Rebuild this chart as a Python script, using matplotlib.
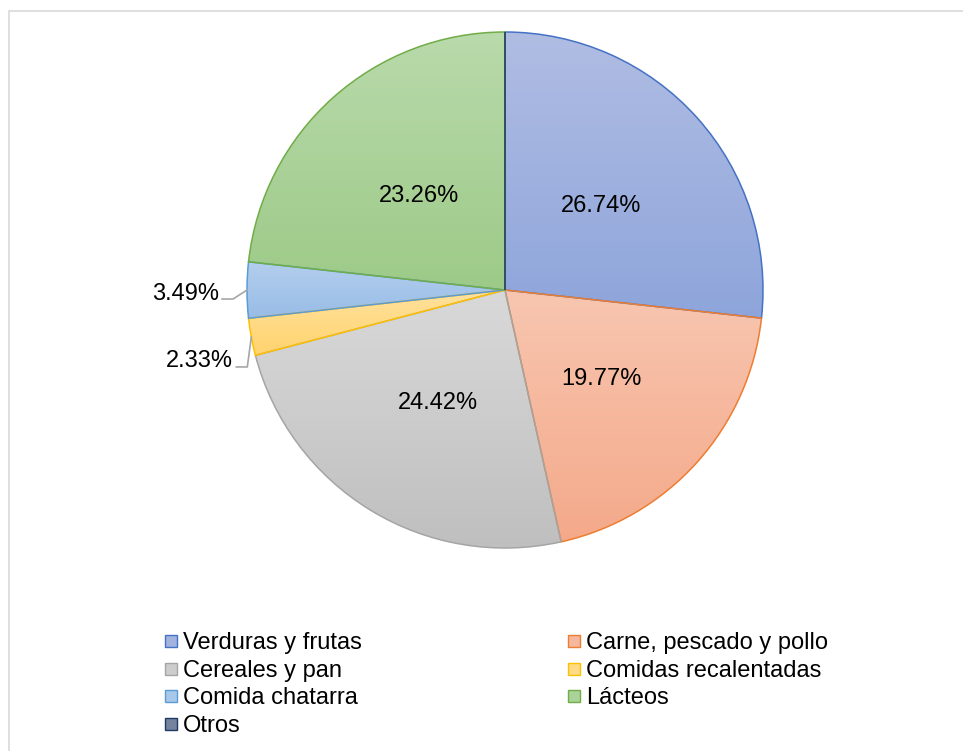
import matplotlib.pyplot as plt
import numpy as np
from matplotlib.colors import LinearSegmentedColormap
from matplotlib.patches import Rectangle

plt.rcParams["font.family"] = ["Liberation Sans", "DejaVu Sans"]

categories = [
    "Verduras y frutas",
    "Carne, pescado y pollo",
    "Cereales y pan",
    "Comidas recalentadas",
    "Comida chatarra",
    "Lácteos",
    "Otros",
]
values = [26.74, 19.77, 24.42, 2.33, 3.49, 23.26, 0.0]

# gradient top, gradient bottom, edge
top_colors = ["#B0BDE3", "#F8C6B0", "#D9D9D9", "#FFE29E", "#B4CFEE", "#B9DAAB", "#8496B0"]
bottom_colors = ["#8EA5DB", "#F4A98A", "#BFBFBF", "#FFD36E", "#98BCE6", "#9DCA88", "#5F7394"]
legend_fills = ["#A3B3E0", "#F6B89C", "#CDCDCD", "#FFDB86", "#A8C8EB", "#ABD299", "#74849F"]
edge_colors = ["#4472C4", "#ED7D31", "#A5A5A5", "#FFC000", "#5B9BD5", "#70AD47", "#203864"]

W, H = 963, 751
CX, CY = 505, H - 290
R = 258
FONT_SIZE = 17


def gradient_fill(ax, patch, top, bottom):
    ext = patch.get_path().get_extents()
    if ext.width <= 0 or ext.height <= 0:
        return
    cmap = LinearSegmentedColormap.from_list("g", [bottom, top])
    grad = np.linspace(0, 1, 256).reshape(-1, 1)
    im = ax.imshow(
        grad,
        cmap=cmap,
        origin="lower",
        extent=[ext.x0, ext.x1, ext.y0, ext.y1],
        aspect="auto",
        zorder=1,
        interpolation="bilinear",
    )
    im.set_clip_path(patch)


def main() -> int:
    fig = plt.figure(figsize=(W / 100, H / 100), dpi=100)
    ax = fig.add_axes([0, 0, 1, 1])

    # chart frame (runs off the right and bottom of the image)
    fig.patches.append(
        Rectangle((8.5 / W, -1), 2, 1 + (H - 10.5) / H, transform=fig.transFigure,
                  fill=False, edgecolor="#D9D9D9", linewidth=1.2)
    )

    wedges, _ = ax.pie(
        values,
        center=(CX, CY),
        radius=R,
        startangle=90,
        counterclock=False,
        colors=["none"] * len(values),
        wedgeprops=dict(linewidth=1.1, zorder=2),
        frame=True,
    )
    ax.set_xlim(0, W)
    ax.set_ylim(0, H)
    ax.set_aspect("auto")
    ax.axis("off")

    for w, top, bot, ec in zip(wedges, top_colors, bottom_colors, edge_colors):
        w.set_edgecolor(ec)
        w.set_facecolor("none")
        gradient_fill(ax, w, top, bot)

    total = sum(values)
    for w, v in zip(wedges, values):
        if v == 0:
            continue
        mid = np.deg2rad((w.theta1 + w.theta2) / 2)
        ex, ey = CX + R * np.cos(mid), CY + R * np.sin(mid)
        label = f"{v / total * 100:.2f}%"
        if v > 10:
            ax.text(CX + 0.5 * R * np.cos(mid), CY + 0.5 * R * np.sin(mid), label,
                    ha="center", va="center_baseline", fontsize=FONT_SIZE,
                    color="#000000", zorder=5)
        else:
            # outside label with elbow leader line
            if ey >= CY - 5:
                elbow = (ex - 14, ey - 9)
            else:
                elbow = (ex - 4, ey - 30)
            end = (elbow[0] - 11, elbow[1])
            ax.plot([ex, elbow[0], end[0]], [ey, elbow[1], end[1]],
                    color="#A6A6A6", linewidth=1.2, zorder=4)
            ax.text(end[0] - 3, end[1] + 8, label, ha="right", va="center_baseline",
                    fontsize=FONT_SIZE, color="#000000", zorder=5)

    # legend, two columns, row-major
    col_x = [165, 568]
    row_y0 = H - 641
    row_step = 27.5
    for i, name in enumerate(categories):
        col, row = i % 2, i // 2
        x = col_x[col]
        y = row_y0 - row * row_step
        ax.add_patch(Rectangle((x, y - 6), 12, 12, facecolor=legend_fills[i],
                               edgecolor=edge_colors[i], linewidth=1.0, zorder=5))
        ax.text(x + 18, y, name, ha="left", va="center_baseline", fontsize=FONT_SIZE,
                color="#000000", zorder=5)

    fig.savefig("out.png", dpi=100)
    plt.close(fig)
    return 0


if __name__ == "__main__":
    raise SystemExit(main())
